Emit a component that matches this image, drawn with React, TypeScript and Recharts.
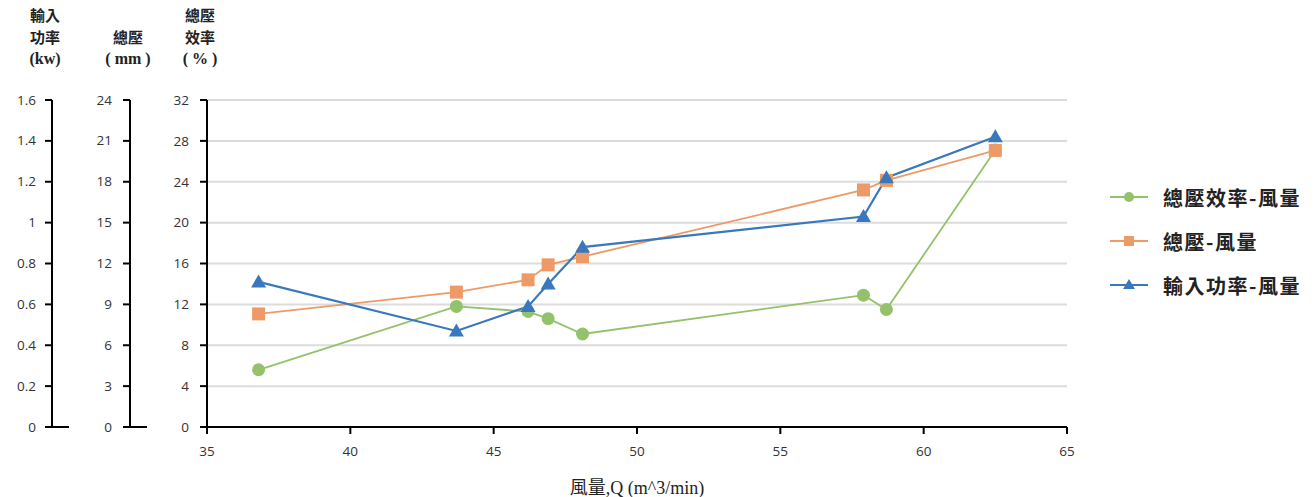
import React from 'react';
import { LineChart, Line, XAxis, YAxis, CartesianGrid } from 'recharts';

const flow = [36.8, 43.7, 46.2, 46.9, 48.1, 57.9, 58.7, 62.5];
const efficiency = [5.6, 11.8, 11.3, 10.6, 9.1, 12.9, 11.5, 27.1];
const pressure = [8.3, 9.9, 10.8, 11.9, 12.5, 17.4, 18.1, 20.3];
const power = [0.71, 0.47, 0.59, 0.7, 0.88, 1.03, 1.22, 1.42];

const xTicks = [35, 40, 45, 50, 55, 60, 65];
const effTicks = [0, 4, 8, 12, 16, 20, 24, 28, 32];
const presTicks = [0, 3, 6, 9, 12, 15, 18, 21, 24];
const powTicks = [0, 0.2, 0.4, 0.6, 0.8, 1, 1.2, 1.4, 1.6];

const seriesNames = ['總壓效率-風量', '總壓-風量', '輸入功率-風量'];
const seriesColors = ['#93c26a', '#ee9a66', '#3a78bd'];

const data = flow.map((q, i) => ({
  q,
  eff: efficiency[i],
  pres: pressure[i],
  pow: power[i],
}));

const tickFont = { fontFamily: '"Open Sans", "Liberation Sans", sans-serif', fontSize: 13.5, fill: '#333' };
const titleFont = '"Noto Sans CJK TC", "Noto Sans CJK SC", sans-serif';

const CircleDot = (props: any) => {
  const { cx, cy, index } = props;
  if (cx == null || cy == null) return <g key={index} />;
  return <circle key={index} cx={cx} cy={cy} r={6.5} fill={seriesColors[0]} />;
};
const SquareDot = (props: any) => {
  const { cx, cy, index } = props;
  if (cx == null || cy == null) return <g key={index} />;
  return <rect key={index} x={cx - 6.5} y={cy - 6.5} width={13} height={13} fill={seriesColors[1]} />;
};
const TriDot = (props: any) => {
  const { cx, cy, index } = props;
  if (cx == null || cy == null) return <g key={index} />;
  return <path key={index} d={`M${cx},${cy - 7.5}L${cx + 7.5},${cy + 5.5}L${cx - 7.5},${cy + 5.5}Z`} fill={seriesColors[2]} />;
};

const makeOuterTick = (gap: number) => (props: any) => {
  const { x, y, payload } = props;
  const axisX = x + gap;
  return (
    <g>
      <text x={x} y={y} dy={4.5} textAnchor="end" {...tickFont}>{String(payload.value)}</text>
      {payload.value === 0 ? <line x1={axisX} y1={y} x2={axisX + 17} y2={y} stroke="#000" strokeWidth={2} /> : null}
    </g>
  );
};

const legendIcon = (i: number) => {
  const c = seriesColors[i];
  return (
    <svg width={40} height={16} style={{ display: 'block' }}>
      <line x1={1} y1={8} x2={39} y2={8} stroke={c} strokeWidth={2} />
      {i === 0 ? <circle cx={20} cy={8} r={5} fill={c} /> : null}
      {i === 1 ? <rect x={15} y={3} width={10} height={10} fill={c} /> : null}
      {i === 2 ? <path d="M20,2L26,12L14,12Z" fill={c} /> : null}
    </svg>
  );
};

const axisStyle = { stroke: '#000', strokeWidth: 2 };

const titleLine = (text: string, serif?: boolean) => (
  <div style={{ height: 22, lineHeight: '22px', fontFamily: serif ? '"Liberation Serif", serif' : titleFont, fontSize: serif ? 16 : 15 }}>{text}</div>
);

export default function App() {
  return (
    <div style={{ position: 'absolute', left: 0, top: 0, width: 1315, height: 497, background: '#fff' }}>
      <LineChart width={1315} height={497} data={data} margin={{ top: 100, right: 248, bottom: 0, left: 0 }}>
        <CartesianGrid yAxisId="y1" xAxisId="x" vertical={false} stroke="#dcdcdc" strokeWidth={2} />
        <XAxis
          xAxisId="x"
          dataKey="q"
          type="number"
          domain={[35, 65]}
          ticks={xTicks}
          interval={0}
          height={70}
          tickSize={7}
          tickMargin={12}
          axisLine={axisStyle}
          tickLine={axisStyle}
          tick={tickFont}
          label={{ value: '風量,Q (m^3/min)', position: 'insideBottom', offset: 3, style: { fontFamily: '"Liberation Serif", "Noto Sans CJK TC", serif', fontSize: 18, fill: '#222' } }}
        />
        <YAxis
          yAxisId="y1"
          orientation="left"
          width={77}
          domain={[0, 32]}
          ticks={effTicks}
          interval={0}
          tickSize={7}
          tickMargin={11}
          axisLine={axisStyle}
          tickLine={axisStyle}
          tick={tickFont}
        />
        <YAxis
          yAxisId="y2"
          orientation="left"
          width={78}
          domain={[0, 24]}
          ticks={presTicks}
          interval={0}
          tickSize={7}
          tickMargin={11}
          axisLine={axisStyle}
          tickLine={axisStyle}
          tick={makeOuterTick(18)}
        />
        <YAxis
          yAxisId="y3"
          orientation="left"
          width={52}
          domain={[0, 1.6]}
          ticks={powTicks}
          interval={0}
          tickSize={7}
          tickMargin={9}
          axisLine={axisStyle}
          tickLine={axisStyle}
          tick={makeOuterTick(16)}
        />
        <Line xAxisId="x" yAxisId="y1" dataKey="eff" name={seriesNames[0]} stroke={seriesColors[0]} strokeWidth={1.8} dot={CircleDot} activeDot={false} isAnimationActive={false} />
        <Line xAxisId="x" yAxisId="y2" dataKey="pres" name={seriesNames[1]} stroke={seriesColors[1]} strokeWidth={1.8} dot={SquareDot} activeDot={false} isAnimationActive={false} />
        <Line xAxisId="x" yAxisId="y3" dataKey="pow" name={seriesNames[2]} stroke={seriesColors[2]} strokeWidth={2.2} dot={TriDot} activeDot={false} isAnimationActive={false} />
      </LineChart>

      <div style={{ position: 'absolute', left: 13, top: 4, width: 64, textAlign: 'center', fontWeight: 700, color: '#222' }}>
        {titleLine('輸入')}
        {titleLine('功率')}
        {titleLine('(kw)', true)}
      </div>
      <div style={{ position: 'absolute', left: 90, top: 26, width: 76, textAlign: 'center', fontWeight: 700, color: '#222' }}>
        {titleLine('總壓')}
        {titleLine('( mm )', true)}
      </div>
      <div style={{ position: 'absolute', left: 168, top: 4, width: 64, textAlign: 'center', fontWeight: 700, color: '#222' }}>
        {titleLine('總壓')}
        {titleLine('效率')}
        {titleLine('( % )', true)}
      </div>

      <div style={{ position: 'absolute', left: 1109, top: 175 }}>
        {seriesNames.map((n, i) => (
          <div key={n} style={{ display: 'flex', alignItems: 'center', height: 44 }}>
            {legendIcon(i)}
            <span style={{ marginLeft: 14, fontFamily: titleFont, fontWeight: 700, fontSize: 20, letterSpacing: 1.5, color: '#222', whiteSpace: 'nowrap' }}>{n}</span>
          </div>
        ))}
      </div>
    </div>
  );
}
